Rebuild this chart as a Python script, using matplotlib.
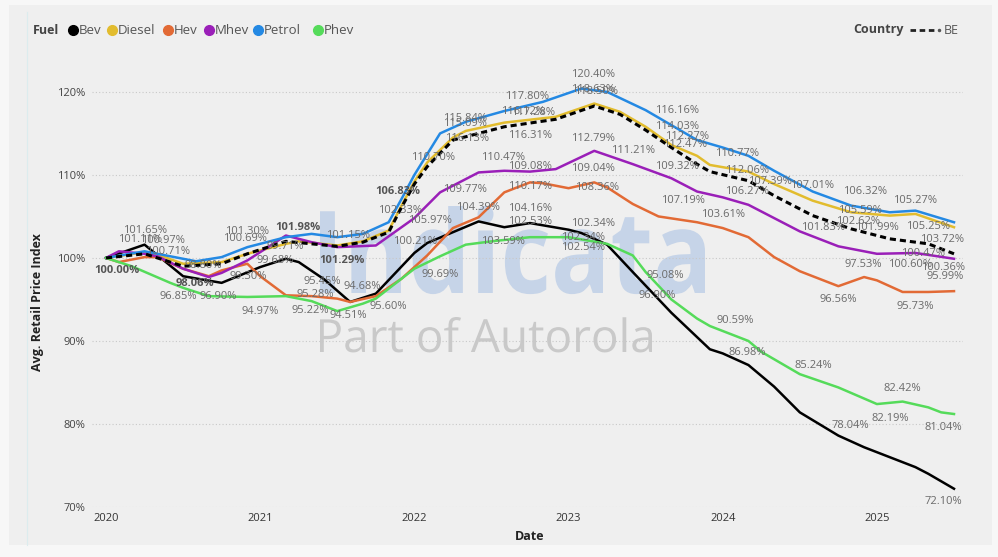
import matplotlib
matplotlib.use('Agg')
import matplotlib.pyplot as plt
from matplotlib.lines import Line2D
from matplotlib.patches import Rectangle, PathPatch
from matplotlib.textpath import TextPath
from matplotlib.font_manager import FontProperties
from matplotlib.transforms import Affine2D

# months since Jan 2020 / index value in %
bev_m = [0, 3, 6, 9, 12, 14, 15, 17, 19, 21, 24, 25, 29, 31, 33, 36, 37, 39, 41, 44, 47, 48, 50, 52, 54, 57, 59, 61, 63, 64, 66]
bev_v = [100.0, 101.6, 97.8, 97.0, 98.9, 99.9, 99.5, 97.4, 94.7, 95.7, 100.6, 101.8, 104.4, 103.7, 104.2, 103.4, 103.0,
         101.6, 98.3, 93.4, 89.0, 88.5, 87.1, 84.5, 81.4, 78.6, 77.2, 76.0, 74.8, 74.0, 72.2]

diesel_m = [0, 3, 4, 6, 9, 11, 14, 15, 18, 20, 22, 23, 24, 25, 27, 28, 31, 35, 38, 40, 42, 44, 46, 47, 50, 52, 55, 58, 61, 63, 66]
diesel_v = [100.0, 100.7, 100.4, 99.3, 99.5, 100.5, 101.7, 102.0, 101.5, 102.0, 103.3, 106.3, 109.2, 111.5, 114.5, 115.3,
            116.3, 117.0, 118.6, 117.6, 115.8, 113.6, 112.3, 111.2, 110.4, 108.9, 106.9, 105.5, 105.1, 105.3, 103.7]

hev_m = [0, 1, 3, 4, 6, 8, 9, 11, 12, 14, 16, 18, 19, 21, 23, 25, 27, 29, 31, 33, 34, 36, 38, 39, 41, 43, 46, 48, 50, 52,
         54, 57, 59, 60, 62, 64, 66]
hev_v = [100.0, 99.5, 100.1, 100.1, 98.7, 97.8, 98.5, 99.3, 97.8, 95.5, 95.4, 95.1, 94.7, 95.4, 97.5, 100.3, 103.6, 104.9,
         107.9, 109.1, 109.0, 108.4, 109.1, 108.5, 106.5, 105.0, 104.3, 103.6, 102.5, 100.1, 98.4, 96.6, 97.7, 97.3, 95.9,
         95.9, 96.0]

mhev_m = [0, 1, 3, 4, 6, 8, 9, 11, 13, 14, 16, 18, 21, 24, 26, 29, 31, 33, 35, 38, 41, 44, 46, 48, 50, 52, 54, 57, 60, 63, 66]
mhev_v = [100.0, 100.8, 100.5, 100.2, 98.7, 97.7, 98.2, 99.7, 101.7, 102.7, 101.9, 101.3, 101.5, 104.8, 107.9, 110.3,
          110.5, 110.4, 110.7, 112.9, 111.3, 109.6, 108.0, 107.3, 106.4, 104.8, 103.2, 101.4, 100.5, 100.6, 99.9]

petrol_m = [0, 3, 4, 7, 9, 11, 14, 16, 18, 20, 22, 23, 24, 26, 28, 31, 34, 37, 39, 42, 44, 46, 48, 50, 52, 55, 58, 61, 63, 66]
petrol_v = [100.0, 100.8, 100.5, 99.6, 100.1, 101.3, 102.5, 102.9, 102.5, 102.9, 104.3, 107.1, 110.0, 115.0, 116.4, 117.7,
            118.8, 120.4, 120.0, 117.8, 116.0, 114.2, 113.3, 112.3, 110.5, 108.0, 106.3, 105.5, 105.7, 104.3]

phev_m = [0, 2, 5, 6, 8, 11, 14, 16, 18, 20, 21, 24, 26, 28, 30, 33, 36, 39, 41, 42, 44, 46, 47, 50, 51, 54, 57, 60, 62,
          64, 65, 66]
phev_v = [100.0, 99.0, 97.0, 96.4, 95.4, 95.3, 95.4, 94.8, 93.6, 94.5, 95.1, 98.7, 100.2, 101.6, 102.0, 102.5, 102.5,
          101.7, 100.3, 98.3, 95.0, 92.7, 91.8, 90.0, 88.7, 86.0, 84.4, 82.4, 82.7, 82.0, 81.4, 81.2]

be_m = [0, 3, 6, 9, 11, 14, 18, 20, 22, 23, 24, 25, 27, 29, 31, 35, 38, 40, 42, 44, 46, 47, 50, 52, 55, 58, 61, 63, 64, 66]
be_v = [100.0, 100.5, 99.0, 99.3, 100.5, 102.0, 101.4, 101.9, 103.1, 106.1, 108.9, 111.0, 114.2, 115.0, 115.8, 116.7,
        118.3, 117.3, 115.4, 113.3, 111.3, 110.4, 109.3, 107.5, 105.1, 103.5, 102.3, 101.9, 101.7, 100.5]

fuels = ['Bev', 'Diesel', 'Hev', 'Mhev', 'Petrol', 'Phev']
colors = ['#000000', '#E2BC2E', '#E26A35', '#9A1FB8', '#2489E3', '#55DB5A']
series = [(bev_m, bev_v), (diesel_m, diesel_v), (hev_m, hev_v), (mhev_m, mhev_v), (petrol_m, petrol_v), (phev_m, phev_v)]

years = ['2020', '2021', '2022', '2023', '2024', '2025']
year_months = [0, 12, 24, 36, 48, 60]
y_ticks = [70, 80, 90, 100, 110, 120]

# data labels: text, month, level where it sits
labels = [
    ("101.65%", 3.03, 103.25), ("101.11%", 2.65, 102.17), ("100.97%", 4.44, 102.05), ("100.71%", 4.82, 100.72),
    ("98.80%", 7.55, 99.04), ("96.85%", 5.6, 95.30), ("96.90%", 8.72, 95.30),
    ("101.30%", 10.97, 103.13), ("100.69%", 10.82, 102.29), ("99.30%", 11.05, 97.71),
    ("99.71%", 13.93, 101.33), ("99.68%", 13.15, 99.64), ("94.97%", 11.98, 93.49), ("95.22%", 15.88, 93.61),
    ("95.28%", 16.26, 95.54), ("95.45%", 16.81, 97.11), ("94.51%", 18.83, 93.01), ("94.68%", 19.92, 96.51),
    ("95.60%", 21.95, 94.10), ("101.15%", 18.83, 102.65), ("102.33%", 22.88, 105.66),
    ("105.97%", 25.21, 104.46), ("100.21%", 24.05, 101.93), ("99.69%", 26.0, 97.95), ("109.77%", 27.94, 108.19),
    ("104.39%", 28.95, 106.02), ("103.59%", 30.89, 101.93), ("104.16%", 33.0, 105.9), ("102.53%", 33.0, 104.34),
    ("110.17%", 33.0, 108.55), ("109.08%", 33.0, 110.96), ("109.04%", 37.9, 110.72), ("108.36%", 38.2, 108.43),
    ("102.34%", 37.9, 104.10), ("102.34%", 37.12, 102.41), ("102.54%", 37.12, 101.2), ("110.47%", 30.89, 112.05),
    ("110.70%", 25.45, 112.05), ("115.84%", 27.94, 116.75), ("115.09%", 27.94, 116.14), ("116.13%", 28.09, 114.34),
    ("117.80%", 32.76, 119.4), ("116.12%", 32.45, 117.59), ("117.28%", 33.23, 117.47), ("116.31%", 33.0, 114.7),
    ("120.40%", 37.9, 122.05), ("118.63%", 37.9, 120.24), ("118.50%", 38.13, 120.0), ("112.79%", 37.9, 114.34),
    ("116.16%", 44.44, 117.71), ("114.03%", 44.44, 115.78), ("112.27%", 45.21, 114.58), ("112.47%", 45.06, 113.61),
    ("111.21%", 41.01, 112.89), ("109.32%", 44.44, 110.96), ("107.19%", 44.9, 106.87), ("110.77%", 49.1, 112.53),
    ("112.06%", 49.88, 110.48), ("107.39%", 51.67, 109.16), ("107.01%", 54.94, 108.67), ("106.27%", 49.88, 107.95),
    ("103.61%", 48.02, 105.18), ("106.32%", 59.07, 107.95), ("105.27%", 62.96, 106.87), ("105.59%", 58.68, 105.66),
    ("102.62%", 58.52, 104.34), ("101.83%", 55.8, 103.61), ("101.99%", 60.0, 103.61), ("105.25%", 63.97, 103.73),
    ("103.72%", 65.06, 102.17), ("100.47%", 63.58, 100.48), ("97.53%", 58.91, 99.16), ("100.60%", 62.57, 99.16),
    ("100.36%", 65.14, 98.80), ("95.99%", 65.29, 97.71), ("96.56%", 56.96, 94.94), ("95.73%", 62.96, 94.10),
    ("90.59%", 48.95, 92.41), ("95.08%", 43.5, 97.83), ("96.90%", 42.88, 95.42), ("86.98%", 49.88, 88.67),
    ("85.24%", 55.02, 86.99), ("82.42%", 61.95, 84.22), ("82.19%", 61.01, 80.72), ("78.04%", 57.9, 79.76),
    ("81.04%", 65.14, 79.52), ("72.10%", 65.14, 70.72),
]
# labels of the BE series (printed darker)
be_labels = [("100.00%", 0.86, 98.43), ("98.06%", 6.93, 96.87), ("101.98%", 14.94, 103.61),
             ("101.29%", 18.37, 99.64), ("106.83%", 22.72, 107.95)]

W, H = 998, 557
fig = plt.figure(figsize=(W / 100, H / 100), dpi=100, facecolor='#f7f7f7')
px = Affine2D().scale(1 / W, 1 / H) + fig.transFigure

fig.add_artist(Rectangle((9, H - 545), 983, 540, transform=px, facecolor='#efefef', edgecolor='none', zorder=-10))
fig.add_artist(Line2D([27, 27], [H - 12, H - 545], transform=px, color='#dcecee', lw=0.8, zorder=-9))


def watermark(text, x0, x1, y_top, y_base, color, weight):
    tp = TextPath((0, 0), text, size=100, prop=FontProperties(family='Open Sans', weight=weight))
    ext = tp.get_extents()
    tr = Affine2D().translate(-ext.x0, 0).scale((x1 - x0) / ext.width, (y_base - y_top) / ext.y1)
    tr = tr.translate(x0, H - y_base)
    fig.add_artist(PathPatch(tr.transform_path(tp), facecolor=color, edgecolor='none', transform=px, zorder=-5))


watermark('Indicata', 320, 705, 206, 293, '#c6d4e8', 'bold')
watermark('Part of Autorola', 320, 652, 317, 352, '#c9c9c9', 'normal')

ax = fig.add_axes([92 / W, 1 - 507 / H, 871 / W, 440 / H])
ax.set_facecolor('none')
ax.set_xlim(-1.09, 66.7)
ax.set_ylim(70, 123)

for (m, v), c in zip(series, colors):
    ax.plot(m, v, color=c, lw=1.8, solid_joinstyle='round', zorder=2)
ax.plot(be_m, be_v, color='#000000', lw=2.2, linestyle=(0, (2, 1.3)), zorder=3)

lab_font = ['Open Sans', 'DejaVu Sans']
for t, m, v in labels:
    ax.text(m, v, t, ha='center', va='center', fontsize=8, color='#6a6a6a', family=lab_font, zorder=4)
for t, m, v in be_labels:
    ax.text(m, v, t, ha='center', va='center', fontsize=8, color='#555555', family=lab_font,
            fontweight='bold', zorder=4)

tick_font = ['Liberation Sans Narrow', 'Open Sans', 'DejaVu Sans']
ax.set_yticks(y_ticks)
ax.set_yticklabels([f'{t}%' for t in y_ticks], family=tick_font, fontsize=8, color='#444444')
ax.set_xticks(year_months)
ax.set_xticklabels(years, family=tick_font, fontsize=8, color='#333333')
ax.tick_params(length=0, pad=5)
ax.tick_params(axis='x', pad=4)
ax.grid(axis='y', color='#c8c8c8', linestyle=(0, (1, 2)), lw=0.8)
for s in ax.spines.values():
    s.set_visible(False)

fig.text(530 / W, 1 - 537 / H, 'Date', ha='center', va='center', fontsize=9, fontweight='bold',
         color='#222222', family=tick_font)
fig.text(38 / W, 1 - 302 / H, 'Avg. Retail Price Index', ha='center', va='center', rotation=90, fontsize=9,
         fontweight='bold', color='#222222', family=tick_font)

# legends
leg_font = ['Open Sans', 'DejaVu Sans']
ly = H - 30
fig.text(33 / W, ly / H, 'Fuel', ha='left', va='center', fontsize=9, fontweight='bold', color='#444444',
         family=leg_font)
leg_x = [73, 112, 168, 209, 258, 318]
for name, c, x in zip(fuels, colors, leg_x):
    fig.add_artist(Line2D([x], [ly], transform=px, marker='o', markersize=7, color=c, lw=0))
    fig.text((x + 6) / W, ly / H, name, ha='left', va='center', fontsize=9.5, color='#555555', family=leg_font)

fig.text(853 / W, ly / H, 'Country', ha='left', va='center', fontsize=9, fontweight='bold', color='#444444',
         family=leg_font)
fig.add_artist(Line2D([910, 934], [ly, ly], transform=px, color='#222222', lw=2, linestyle=(0, (2, 1.3))))
fig.add_artist(Line2D([939], [ly], transform=px, marker='o', markersize=1.5, color='#555555', lw=0))
fig.text(944 / W, ly / H, 'BE', ha='left', va='center', fontsize=9, color='#555555', family=leg_font)

fig.savefig('out.png', dpi=100, facecolor=fig.get_facecolor())
